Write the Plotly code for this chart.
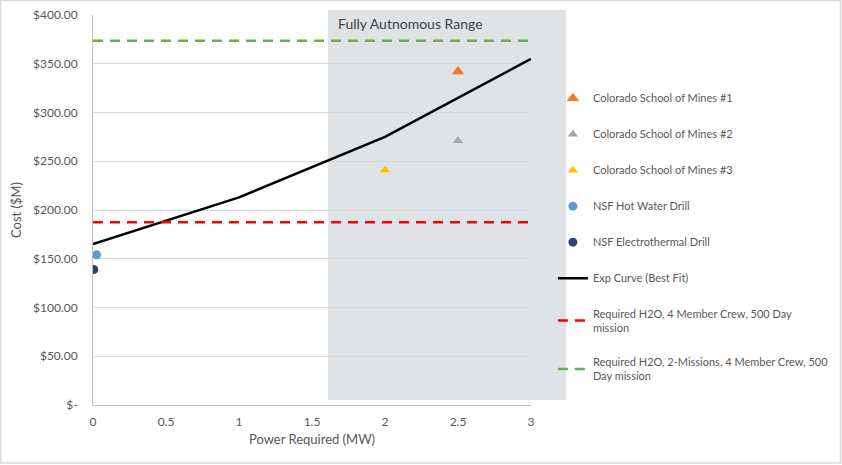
import plotly.graph_objects as go

# data
fit_x = [0, 1, 2, 3]
fit_cost = [165, 213, 275, 355]

csm1_x, csm1_cost = [2.5], [342]
csm2_x, csm2_cost = [2.5], [271]
csm3_x, csm3_cost = [2.0], [241]
nsf_hot_x, nsf_hot_cost = [0.025], [154]
nsf_et_x, nsf_et_cost = [0.005], [139]

req_x = [0, 3]
req_one = [187.5, 187.5]
req_two = [373.5, 373.5]

auto_start, auto_end = 1.61, 3.24

y_ticks = [0, 50, 100, 150, 200, 250, 300, 350, 400]
y_labels = ['$-'] + ['${:,.2f}'.format(v) for v in y_ticks[1:]]
x_ticks = [0, 0.5, 1, 1.5, 2, 2.5, 3]

FONT = 'Lato'
GREY_TXT = '#595959'

fig = go.Figure()

def add(tr, grp):
    tr.legendgroup = grp
    fig.add_trace(tr)

add(go.Scatter(x=csm1_x, y=csm1_cost, mode='markers', name='Colorado School of Mines #1',
               marker=dict(symbol='triangle-up', size=11, color='#ED7D31')), 'a')
add(go.Scatter(x=csm2_x, y=csm2_cost, mode='markers', name='Colorado School of Mines #2',
               marker=dict(symbol='triangle-up', size=9, color='#A5A5A5')), 'b')
add(go.Scatter(x=csm3_x, y=csm3_cost, mode='markers', name='Colorado School of Mines #3',
               marker=dict(symbol='triangle-up', size=9, color='#FFC000')), 'c')
add(go.Scatter(x=nsf_hot_x, y=nsf_hot_cost, mode='markers', name='NSF Hot Water Drill',
               marker=dict(symbol='circle', size=9, color='#5B9BD5')), 'd')
add(go.Scatter(x=nsf_et_x, y=nsf_et_cost, mode='markers', name='NSF Electrothermal Drill',
               marker=dict(symbol='circle', size=9, color='#264478')), 'e')
add(go.Scatter(x=fit_x, y=fit_cost, mode='lines', name='Exp Curve (Best Fit)',
               line=dict(color='black', width=2.5)), 'f')
add(go.Scatter(x=req_x, y=req_one, mode='lines',
               name='Required H2O, 4 Member Crew, 500 Day<br>mission',
               line=dict(color='#FF0000', width=2.5, dash='10px,7px')), 'g')
add(go.Scatter(x=req_x, y=req_two, mode='lines',
               name='Required H2O, 2-Missions, 4 Member Crew, 500<br>Day mission',
               line=dict(color='#70AD47', width=2.5, dash='10px,7px')), 'h')

# shaded autonomous range (runs past the plot area into the legend side)
px_per_x = 1 / 3.0
fig.add_shape(type='rect', xref='paper', yref='paper', layer='below',
              x0=auto_start * px_per_x, x1=auto_end * px_per_x, y0=0.0128, y1=1.0128,
              fillcolor='#DFE3E5', line=dict(width=0))
fig.add_annotation(xref='paper', yref='paper', x=auto_start * px_per_x + 0.018, y=1.005,
                   text='Fully Autnomous Range', showarrow=False, xanchor='left', yanchor='top',
                   font=dict(family=FONT, size=14, color='#404040'))

# outer frame
fig.add_shape(type='rect', xref='paper', yref='paper', layer='above',
              x0=-0.2112, x1=1.7066, y0=-0.149, y1=1.0372,
              line=dict(color='#D9D9D9', width=1.5))

fig.update_layout(
    width=842, height=465,
    margin=dict(l=93, r=311, t=15, b=60, autoexpand=False),
    paper_bgcolor='white', plot_bgcolor='rgba(0,0,0,0)',
    font=dict(family=FONT, size=12, color=GREY_TXT),
    showlegend=True,
    legend=dict(x=1.05, y=0.824, xanchor='left', yanchor='top',
                traceorder='grouped', tracegroupgap=17,
                font=dict(family=FONT, size=11, color=GREY_TXT),
                bgcolor='rgba(0,0,0,0)', itemwidth=30),
)
fig.update_xaxes(range=[0, 3], tickvals=x_ticks, ticktext=[str(v) for v in x_ticks],
                 showgrid=False, zeroline=False, showline=True, linecolor='#BFBFBF',
                 ticks='', ticklabelstandoff=6,
                 title=dict(text='Power Required (MW)', standoff=6,
                            font=dict(size=13, color=GREY_TXT)))
fig.update_yaxes(range=[0, 400], tickvals=y_ticks, ticktext=y_labels,
                 showgrid=True, gridcolor='#D9D9D9', zeroline=False,
                 showline=True, linecolor='#BFBFBF', ticks='', ticklabelstandoff=12,
                 title=dict(text='Cost ($M)', standoff=8, font=dict(size=13, color=GREY_TXT)))

# the page body has a default 8px margin; drop it so the figure sits at the corner
fig.write_html('out.html', config={'displayModeBar': False},
               post_script="document.body.style.margin='0';")
